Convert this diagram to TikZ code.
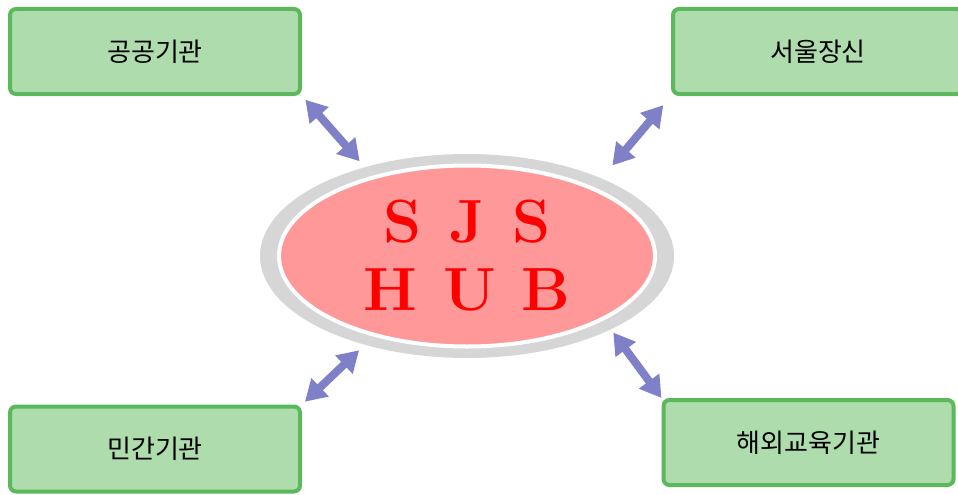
\documentclass[tikz,border=0pt]{standalone}
\usepackage{fontspec}
\newfontfamily\krfont{Noto Sans CJK KR}
\usetikzlibrary{shapes.geometric,arrows.meta}

\definecolor{boxfill}{RGB}{174,220,172}
\definecolor{boxline}{RGB}{92,184,92}
\definecolor{linkcol}{RGB}{128,128,200}
\definecolor{ringgray}{RGB}{214,214,214}
\definecolor{hubpink}{RGB}{255,153,153}

\tikzset{
  partner/.style={rectangle,rounded corners=6pt,draw=boxline,line width=4pt,fill=boxfill,
    minimum width=290pt,minimum height=85pt,inner sep=0pt,font=\krfont\fontsize{26}{30}\selectfont},
  link/.style={linkcol,line width=8pt,
    {Triangle[length=21pt,width=24pt]}-{Triangle[length=21pt,width=24pt]}},
}

\begin{document}
\begin{tikzpicture}[x=1pt,y=-1pt]
\clip (0,0) rectangle (958,495);
\node[ellipse,fill=ringgray,minimum width=414pt,minimum height=204pt,inner sep=0pt,outer sep=0pt] (ring) at (467,256) {};
\node[ellipse,fill=hubpink,draw=white,line width=4pt,minimum width=376pt,minimum height=181pt,inner sep=0pt,
  align=center,text=red,font=\bfseries\fontsize{61}{68}\selectfont] (hub) at (467,256)
  {S\hspace{28pt}J\hspace{28pt}S\\H\hspace{26pt}U\hspace{26pt}B};
\node[partner] (pub) at (155,51.5) {공공기관};
\node[partner] (ser) at (818,51.5) {서울장신};
\node[partner] (priv) at (155,449) {민간기관};
\node[partner] (edu) at (808.5,442.5) {해외교육기관};
\draw[link,shorten <=5pt,shorten >=8pt] (pub.south east) -- (ring.139);
\draw[link,shorten <=12pt,shorten >=17pt] (ser.south west) -- (ring.30);
\draw[link,shorten <=4pt,shorten >=8pt] (priv.north east) -- (ring.221);
\draw[link,shorten >=4pt] (edu.north west) -- (ring.333);
\end{tikzpicture}
\end{document}
